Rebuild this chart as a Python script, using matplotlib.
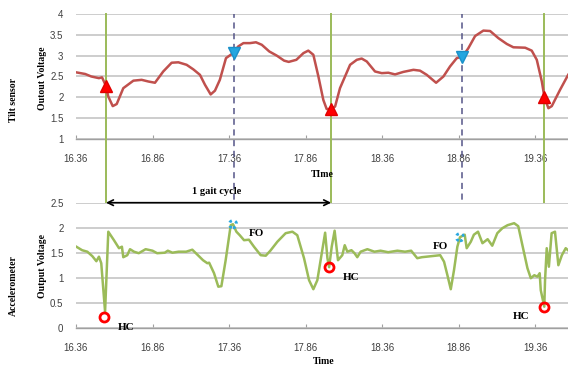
import numpy as np
import matplotlib
matplotlib.use("Agg")
import matplotlib.pyplot as plt
import matplotlib.transforms as mtransforms

# tilt sensor (top)
tilt_t = [16.36, 16.42, 16.46, 16.51, 16.53, 16.555, 16.571, 16.60, 16.626, 16.669,
          16.735, 16.789, 16.833, 16.876, 16.93, 16.985, 17.029, 17.083, 17.127, 17.17,
          17.203, 17.24, 17.268, 17.30, 17.34, 17.39, 17.42, 17.454, 17.497, 17.536,
          17.574, 17.623, 17.672, 17.72, 17.75, 17.80, 17.846, 17.878, 17.911, 17.944,
          17.976, 17.998, 18.027, 18.053, 18.085, 18.151, 18.195, 18.227, 18.26, 18.314,
          18.358, 18.401, 18.445, 18.499, 18.565, 18.608, 18.652, 18.713, 18.761, 18.804,
          18.848, 18.887, 18.924, 18.968, 19.022, 19.066, 19.12, 19.175, 19.218, 19.295,
          19.338, 19.371, 19.404, 19.421, 19.447, 19.469, 19.523, 19.576]
tilt_v = [2.60, 2.56, 2.50, 2.46, 2.48, 2.28, 2.02, 1.79, 1.84, 2.22,
          2.40, 2.42, 2.38, 2.35, 2.62, 2.83, 2.84, 2.78, 2.67, 2.54,
          2.30, 2.07, 2.16, 2.42, 2.94, 3.07, 3.22, 3.30, 3.30, 3.32,
          3.26, 3.10, 3.00, 2.88, 2.85, 2.90, 3.06, 3.12, 3.02, 2.50,
          1.94, 1.72, 1.72, 1.78, 2.22, 2.78, 2.90, 2.93, 2.86, 2.62,
          2.58, 2.59, 2.55, 2.61, 2.66, 2.64, 2.54, 2.35, 2.50, 2.74,
          2.94, 2.98, 3.18, 3.47, 3.60, 3.59, 3.42, 3.28, 3.20, 3.19,
          3.12, 2.90, 2.38, 2.00, 1.74, 1.79, 2.18, 2.54]

# accelerometer (bottom)
acc_t = [16.362, 16.40, 16.434, 16.467, 16.493, 16.51, 16.525, 16.55, 16.571, 16.608,
         16.641, 16.66, 16.669, 16.695, 16.713, 16.739, 16.77, 16.815, 16.86, 16.89,
         16.94, 16.96, 16.99, 17.03, 17.08, 17.12, 17.19, 17.218, 17.23, 17.262,
         17.29, 17.31, 17.338, 17.371, 17.386, 17.408, 17.43, 17.458, 17.49, 17.523,
         17.567, 17.60, 17.63, 17.676, 17.73, 17.774, 17.806, 17.85, 17.883, 17.911,
         17.937, 17.966, 17.988, 18.003, 18.014, 18.031, 18.05, 18.072, 18.10, 18.116,
         18.133, 18.16, 18.18, 18.198, 18.22, 18.264, 18.31, 18.35, 18.40, 18.46,
         18.51, 18.55, 18.59, 18.62, 18.68, 18.74, 18.765, 18.787, 18.809, 18.83,
         18.852, 18.869, 18.90, 18.913, 18.94, 18.96, 18.987, 19.016, 19.05, 19.08,
         19.113, 19.146, 19.18, 19.223, 19.25, 19.277, 19.31, 19.332, 19.355, 19.375,
         19.39, 19.397, 19.42, 19.425, 19.436, 19.45, 19.468, 19.49, 19.512, 19.535,
         19.56, 19.575]
acc_v = [1.62, 1.55, 1.52, 1.43, 1.33, 1.42, 1.29, 0.32, 1.92, 1.75,
         1.59, 1.62, 1.41, 1.45, 1.57, 1.52, 1.49, 1.57, 1.54, 1.49,
         1.50, 1.54, 1.50, 1.52, 1.52, 1.56, 1.35, 1.29, 1.30, 1.09,
         0.82, 0.83, 1.35, 2.05, 2.07, 1.92, 1.85, 1.75, 1.76, 1.62,
         1.45, 1.44, 1.54, 1.72, 1.89, 1.92, 1.85, 1.39, 0.95, 0.77,
         0.95, 1.49, 1.90, 1.39, 1.21, 1.62, 1.94, 1.35, 1.45, 1.65,
         1.52, 1.55, 1.49, 1.41, 1.52, 1.57, 1.52, 1.54, 1.51, 1.54,
         1.52, 1.54, 1.39, 1.41, 1.43, 1.45, 1.32, 1.05, 0.77, 1.15,
         1.62, 1.81, 1.86, 1.59, 1.72, 1.86, 1.92, 1.69, 1.77, 1.64,
         1.89, 1.99, 2.05, 2.09, 2.03, 1.65, 1.19, 0.99, 1.05, 1.02,
         1.09, 0.75, 0.42, 0.95, 1.59, 1.22, 1.89, 1.92, 1.25, 1.45,
         1.59, 1.55]

# gait events
hc_t = [16.556, 18.027, 19.42]
fo_t = [17.39, 18.885]
hc_tilt = [2.27, 1.72, 2.00]
fo_tilt = [3.07, 2.96]
hc_acc_t = [16.543, 18.014, 19.42]
hc_acc = [0.22, 1.21, 0.42]
fo_acc_t = [17.386, 18.869]
fo_acc = [2.07, 1.81]

xticks = [16.36, 16.86, 17.36, 17.86, 18.36, 18.86, 19.36]
xlabels = ["16.36", "16.86", "17.36", "17.86", "18.36", "18.86", "19.36"]

red = "#c0504d"
green = "#9bbb59"
grid_c = "#c0c0c0"
serif = "Liberation Serif"
sans = "Liberation Sans"

fig = plt.figure(figsize=(5.68, 3.66), dpi=100)
ax1 = fig.add_axes([0.1338, 0.620, 0.8662, 0.342])
ax2 = fig.add_axes([0.1338, 0.1046, 0.8662, 0.3416])

for ax, yt in ((ax1, [1, 1.5, 2, 2.5, 3, 3.5, 4]), (ax2, [0, 0.5, 1, 1.5, 2, 2.5])):
    ax.set_xlim(16.36, 19.575)
    ax.set_ylim(yt[0], yt[-1])
    ax.set_yticks(yt)
    ax.set_yticklabels([("%g" % v) for v in yt], fontfamily=sans, fontsize=7, color="#404040")
    ax.set_xticks(xticks)
    ax.set_xticklabels(xlabels, fontfamily=sans, fontsize=7, color="#404040")
    for s in ["top", "right", "left"]:
        ax.spines[s].set_visible(False)
    ax.spines["bottom"].set_color("#a0a0a0")
    ax.spines["bottom"].set_linewidth(1.0)
    ax.tick_params(axis="y", length=0, pad=9)
    ax.tick_params(axis="x", direction="in", length=3, color="#a0a0a0", pad=11)
    ax.yaxis.grid(True, color=grid_c, linewidth=1.1)
    ax.set_axisbelow(True)

ax1.plot(tilt_t, tilt_v, color=red, linewidth=1.8, zorder=4)
ax2.plot(acc_t, acc_v, color=green, linewidth=1.8, zorder=4)

# event lines spanning both panels
trans = mtransforms.blended_transform_factory(ax1.transData, fig.transFigure)
for t in hc_t:
    ax1.plot([t, t], [0.104, 0.962], transform=trans, color=green, linewidth=1.4,
             clip_on=False, zorder=3)
for t in fo_t:
    ax1.plot([t, t], [0.104, 0.962], transform=trans, color="#555588", linewidth=1.1,
             linestyle=(0, (4, 3)), clip_on=False, zorder=3)

ax1.plot(hc_t, hc_tilt, linestyle="none", marker="^", markersize=8,
         color="#ff0000", markeredgecolor="#e00000", zorder=5)
ax1.plot(fo_t, fo_tilt, linestyle="none", marker="v", markersize=8,
         color="#23a6e0", markeredgecolor="#1a90c8", zorder=5)

ax2.plot(hc_acc_t, hc_acc, linestyle="none", marker="o", markersize=6.5,
         markerfacecolor="none", markeredgecolor="#ff0000", markeredgewidth=2, zorder=5)
ax2.scatter(fo_acc_t, fo_acc, s=28, facecolors="none", edgecolors="#29a8e0",
            linewidths=2, linestyles=(0, (1, 1.3)), zorder=5)

# gait cycle arrow
ax2.annotate("", xy=(hc_t[0], 2.5), xytext=(hc_t[1], 2.5),
             arrowprops=dict(arrowstyle="<->", color="black", lw=1.2,
                             shrinkA=0, shrinkB=0), annotation_clip=False)
ax2.text(17.28, 2.72, "1 gait cycle", fontfamily=serif, fontweight="bold",
         fontsize=7.5, ha="center", va="center", clip_on=False)

lab = dict(fontfamily=serif, fontweight="bold", fontsize=8, ha="center", va="center")
ax2.text(16.69, 0.0, "HC", **lab)
ax2.text(18.155, 1.0, "HC", **lab)
ax2.text(19.27, 0.22, "HC", **lab)
ax2.text(17.536, 1.89, "FO", **lab)
ax2.text(18.74, 1.62, "FO", **lab)

side = dict(fontfamily=serif, fontweight="bold", fontsize=7, rotation=90,
            ha="center", va="center")
fig.text(0.074, 0.787, "Outout Voltage", **side)
fig.text(0.023, 0.727, "Tilt sensor", **side)
fig.text(0.074, 0.273, "Output Voltage", **side)
fig.text(0.023, 0.221, "Accelerometer", **side)
fig.text(0.567, 0.522, "TIme", fontfamily=serif, fontweight="bold", fontsize=7,
         ha="center", va="center")
fig.text(0.569, 0.011, "Time", fontfamily=serif, fontweight="bold", fontsize=7,
         ha="center", va="center")

fig.savefig("out.png", dpi=100)
